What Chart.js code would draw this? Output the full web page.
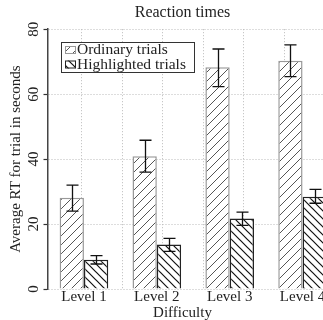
<!DOCTYPE html>
<html>
<head>
<meta charset="utf-8">
<script src="https://cdn.jsdelivr.net/npm/chart.js@4.4.1/dist/chart.umd.min.js"></script>
<style>
html, body { margin: 0; padding: 0; overflow: hidden; background: #fff; }
#wrap { width: 365px; height: 322px; }
</style>
</head>
<body>
<div id="wrap"><canvas id="myChart" width="365" height="322"></canvas></div>
<script>
var levels = ["Level 1", "Level 2", "Level 3", "Level 4"];
var ordinary = [28.1, 40.9, 68.3, 70.3];
var ordinaryLow = [24.0, 36.0, 62.3, 65.4];
var ordinaryHigh = [32.0, 45.8, 73.9, 75.2];
var highlighted = [9.0, 13.7, 21.7, 28.4];
var highlightedLow = [7.7, 11.6, 19.6, 26.4];
var highlightedHigh = [10.3, 15.6, 23.7, 30.7];
var yTicks = [0, 20, 40, 60, 80];
var xGrid = [1, 1.667, 2.333, 3, 3.667, 4.333];

var serif = "'Liberation Serif', 'DejaVu Serif', serif";
Chart.defaults.font.family = serif;
Chart.defaults.color = "#222";

var ctx = document.getElementById("myChart").getContext("2d");

// hatch fill for the bars
function hatch(dir, color, lw, size) {
    var c = document.createElement("canvas");
    c.width = size; c.height = size;
    var g = c.getContext("2d");
    g.fillStyle = "#fff";
    g.fillRect(0, 0, size, size);
    g.strokeStyle = color;
    g.lineWidth = lw;
    g.beginPath();
    if (dir == "/") {
        g.moveTo(-1, size + 1); g.lineTo(size + 1, -1);
        g.moveTo(-1, 1); g.lineTo(1, -1);
        g.moveTo(size - 1, size + 1); g.lineTo(size + 1, size - 1);
    } else {
        g.moveTo(-1, -1); g.lineTo(size + 1, size + 1);
        g.moveTo(size - 1, -1); g.lineTo(size + 1, 1);
        g.moveTo(-1, size - 1); g.lineTo(1, size + 1);
    }
    g.stroke();
    return ctx.createPattern(c, "repeat");
}

var errLow = [ordinaryLow, highlightedLow];
var errHigh = [ordinaryHigh, highlightedHigh];

var errorBars = {
    id: "errorBars",
    afterDatasetsDraw: function(chart) {
        var c = chart.ctx, ys = chart.scales.y;
        c.save();
        c.strokeStyle = "#111";
        c.lineWidth = 1.3;
        chart.data.datasets.forEach(function(ds, i) {
            chart.getDatasetMeta(i).data.forEach(function(bar, j) {
                var x = Math.round(bar.x) + 0.5;
                var yl = ys.getPixelForValue(errLow[i][j]);
                var yh = ys.getPixelForValue(errHigh[i][j]);
                c.beginPath();
                c.moveTo(x, yl); c.lineTo(x, yh);
                c.moveTo(x - 6, yl); c.lineTo(x + 6, yl);
                c.moveTo(x - 6, yh); c.lineTo(x + 6, yh);
                c.stroke();
            });
        });
        c.restore();
    }
};

var legendBox = {
    id: "legendBox",
    afterDraw: function(chart) {
        var c = chart.ctx, a = chart.chartArea;
        var x = Math.round(a.left) + 13, y = Math.round(a.top) + 13, w = 133, h = 30;
        c.save();
        c.fillStyle = "#fff";
        c.fillRect(x, y, w, h);
        c.strokeStyle = "#333";
        c.lineWidth = 1;
        c.strokeRect(x + 0.5, y + 0.5, w, h);
        c.font = "15.5px " + serif;
        c.textBaseline = "middle";
        chart.data.datasets.forEach(function(ds, i) {
            var ry = y + 8 + i * 14.5;
            c.fillStyle = ds.backgroundColor;
            c.fillRect(x + 4, ry - 4, 11, 8);
            c.strokeStyle = ds.borderColor;
            c.strokeRect(x + 4.5, ry - 3.5, 10, 7);
            c.fillStyle = "#222";
            c.fillText(ds.label, x + 16, ry);
        });
        c.restore();
    }
};

new Chart(ctx, {
    type: "bar",
    data: {
        labels: levels,
        datasets: [{
            label: "Ordinary trials",
            data: ordinary,
            backgroundColor: hatch("/", "#555", 1, 9),
            borderColor: "#999",
            borderWidth: 1.5,
            categoryPercentage: 0.667,
            barPercentage: 1,
            xAxisID: "x",
            yAxisID: "y"
        }, {
            label: "Highlighted trials",
            data: highlighted,
            backgroundColor: hatch("\\", "#111", 1.2, 8),
            borderColor: "#222",
            borderWidth: 1.5,
            categoryPercentage: 0.667,
            barPercentage: 1,
            xAxisID: "x",
            yAxisID: "y"
        }]
    },
    options: {
        responsive: false,
        animation: false,
        devicePixelRatio: 1,
        layout: { padding: 0 },
        plugins: {
            legend: { display: false },
            tooltip: { enabled: false },
            title: {
                display: true,
                text: "Reaction times",
                font: { size: 16, weight: "normal", lineHeight: 1.2 },
                color: "#222",
                padding: { top: 3, bottom: 7 }
            },
            subtitle: {
                display: true,
                position: "bottom",
                text: "Difficulty",
                font: { size: 15, weight: "normal", lineHeight: 1 },
                color: "#222",
                padding: { top: 0, bottom: 1 }
            }
        },
        scales: {
            x: {
                type: "category",
                position: "bottom",
                grid: { display: false, drawTicks: false },
                border: { display: false },
                ticks: { font: { size: 15, lineHeight: 1 }, color: "#222", padding: 1, maxRotation: 0, autoSkip: false }
            },
            xg: {
                type: "linear",
                position: "bottom",
                min: 0.5,
                max: 4.5,
                afterBuildTicks: function(s) { s.ticks = xGrid.map(function(v) { return { value: v }; }); },
                ticks: { display: false },
                grid: { color: "#bbb", lineWidth: 1, drawTicks: false },
                border: { display: false, dash: [1, 2] }
            },
            y: {
                min: 0,
                max: 80,
                afterBuildTicks: function(s) { s.ticks = yTicks.map(function(v) { return { value: v }; }); },
                ticks: {
                    minRotation: 90, maxRotation: 90, crossAlign: "center", padding: 1.5,
                    font: { size: 15, lineHeight: 1 }, color: "#222"
                },
                grid: { color: "#bbb", lineWidth: 1, tickColor: "#333", tickLength: 4, tickWidth: 1.2 },
                border: { display: true, color: "#444", width: 1.5, dash: [1, 2] },
                title: {
                    display: true,
                    text: "Average RT for trial in seconds",
                    font: { size: 15, lineHeight: 1.2 },
                    color: "#222",
                    padding: { top: 7, bottom: 0.5 }
                }
            },
            // empty right margin, so the titles stay centred on the whole figure
            yr: {
                type: "linear",
                position: "right",
                display: true,
                ticks: { display: false },
                grid: { display: false, drawTicks: false },
                border: { display: false },
                afterFit: function(s) { s.width = 26; }
            }
        }
    },
    plugins: [errorBars, legendBox]
});
</script>
</body>
</html>
